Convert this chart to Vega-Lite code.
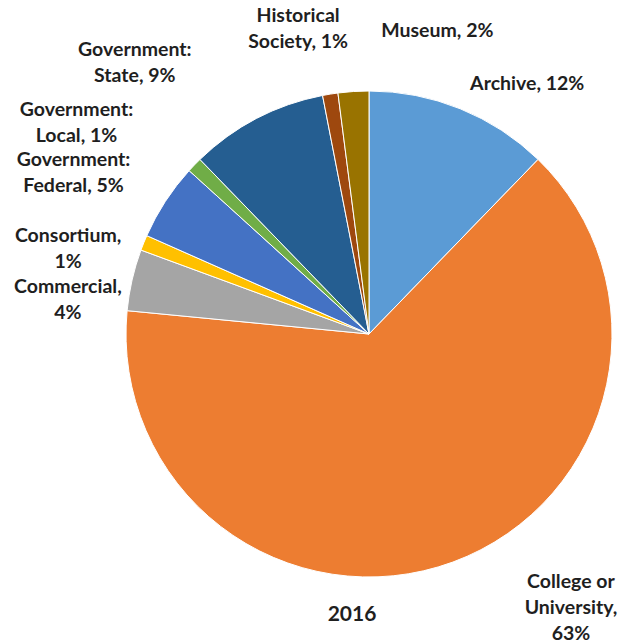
{
  "$schema": "https://vega.github.io/schema/vega-lite/v6.json",
  "width": 508,
  "height": 618,
  "autosize": {"type": "none"},
  "padding": {"left": 115, "top": 25, "right": 0, "bottom": 0},
  "background": "white",
  "title": {"text": "2016", "orient": "bottom", "font": "Lato", "fontSize": 21, "fontWeight": "bold", "color": "#1f1f1f", "baseline": "middle", "offset": 0, "dx": -17, "dy": -29},
  "view": {"stroke": null},
  "data": {
    "values": [
      {"category": "Archive", "value": 12, "label": "Archive, 12%"},
      {"category": "College or University", "value": 63, "label": "College or\nUniversity,\n63%"},
      {"category": "Commercial", "value": 4, "label": "Commercial,\n4%"},
      {"category": "Consortium", "value": 1, "label": "Consortium,\n1%"},
      {"category": "Government: Federal", "value": 5, "label": "Government:\nFederal, 5%"},
      {"category": "Government: Local", "value": 1, "label": "Government:\nLocal, 1%"},
      {"category": "Government: State", "value": 9, "label": "Government:\nState, 9%"},
      {"category": "Historical Society", "value": 1, "label": "Historical\nSociety, 1%"},
      {"category": "Museum", "value": 2, "label": "Museum, 2%"}
    ]
  },
  "encoding": {
    "theta": {"field": "value", "type": "quantitative", "stack": true}
  },
  "layer": [
    {
      "mark": {"type": "arc", "radius": 243, "stroke": "white", "strokeWidth": 1},
      "encoding": {
        "color": {
          "field": "category",
          "type": "nominal",
          "scale": {
            "domain": ["Archive", "College or University", "Commercial", "Consortium", "Government: Federal", "Government: Local", "Government: State", "Historical Society", "Museum"],
            "range": ["#5B9BD5", "#ED7D31", "#A5A5A5", "#FFC000", "#4472C4", "#70AD47", "#255E91", "#9E480E", "#997300"]
          },
          "legend": null
        }
      }
    },
    {
      "mark": {
        "type": "text",
        "radius": 275,
        "font": "Lato",
        "fontSize": 19.5,
        "fontWeight": "bold",
        "fill": "#1f1f1f",
        "lineBreak": "\n",
        "lineHeight": 26,
        "align": "center",
        "baseline": "middle",
        "dx": {"expr": "datum.category === 'Archive' ? 55 : datum.category === 'College or University' ? 107 : datum.category === 'Commercial' ? -33 : datum.category === 'Consortium' ? -46 : datum.category === 'Government: Federal' ? -65 : datum.category === 'Government: Local' ? -95 : datum.category === 'Government: State' ? -107 : datum.category === 'Historical Society' ? -27 : 86"},
        "dy": {"expr": "datum.category === 'Archive' ? 5 : datum.category === 'College or University' ? -10 : datum.category === 'Commercial' ? 14 : datum.category === 'Consortium' ? 5 : datum.category === 'Government: Federal' ? -24 : datum.category === 'Government: Local' ? -33 : datum.category === 'Government: State' ? -40 : datum.category === 'Historical Society' ? -47 : -29"}
      },
      "encoding": {
        "detail": {"field": "category", "type": "nominal"},
        "text": {"field": "label", "type": "nominal"}
      }
    }
  ]
}
